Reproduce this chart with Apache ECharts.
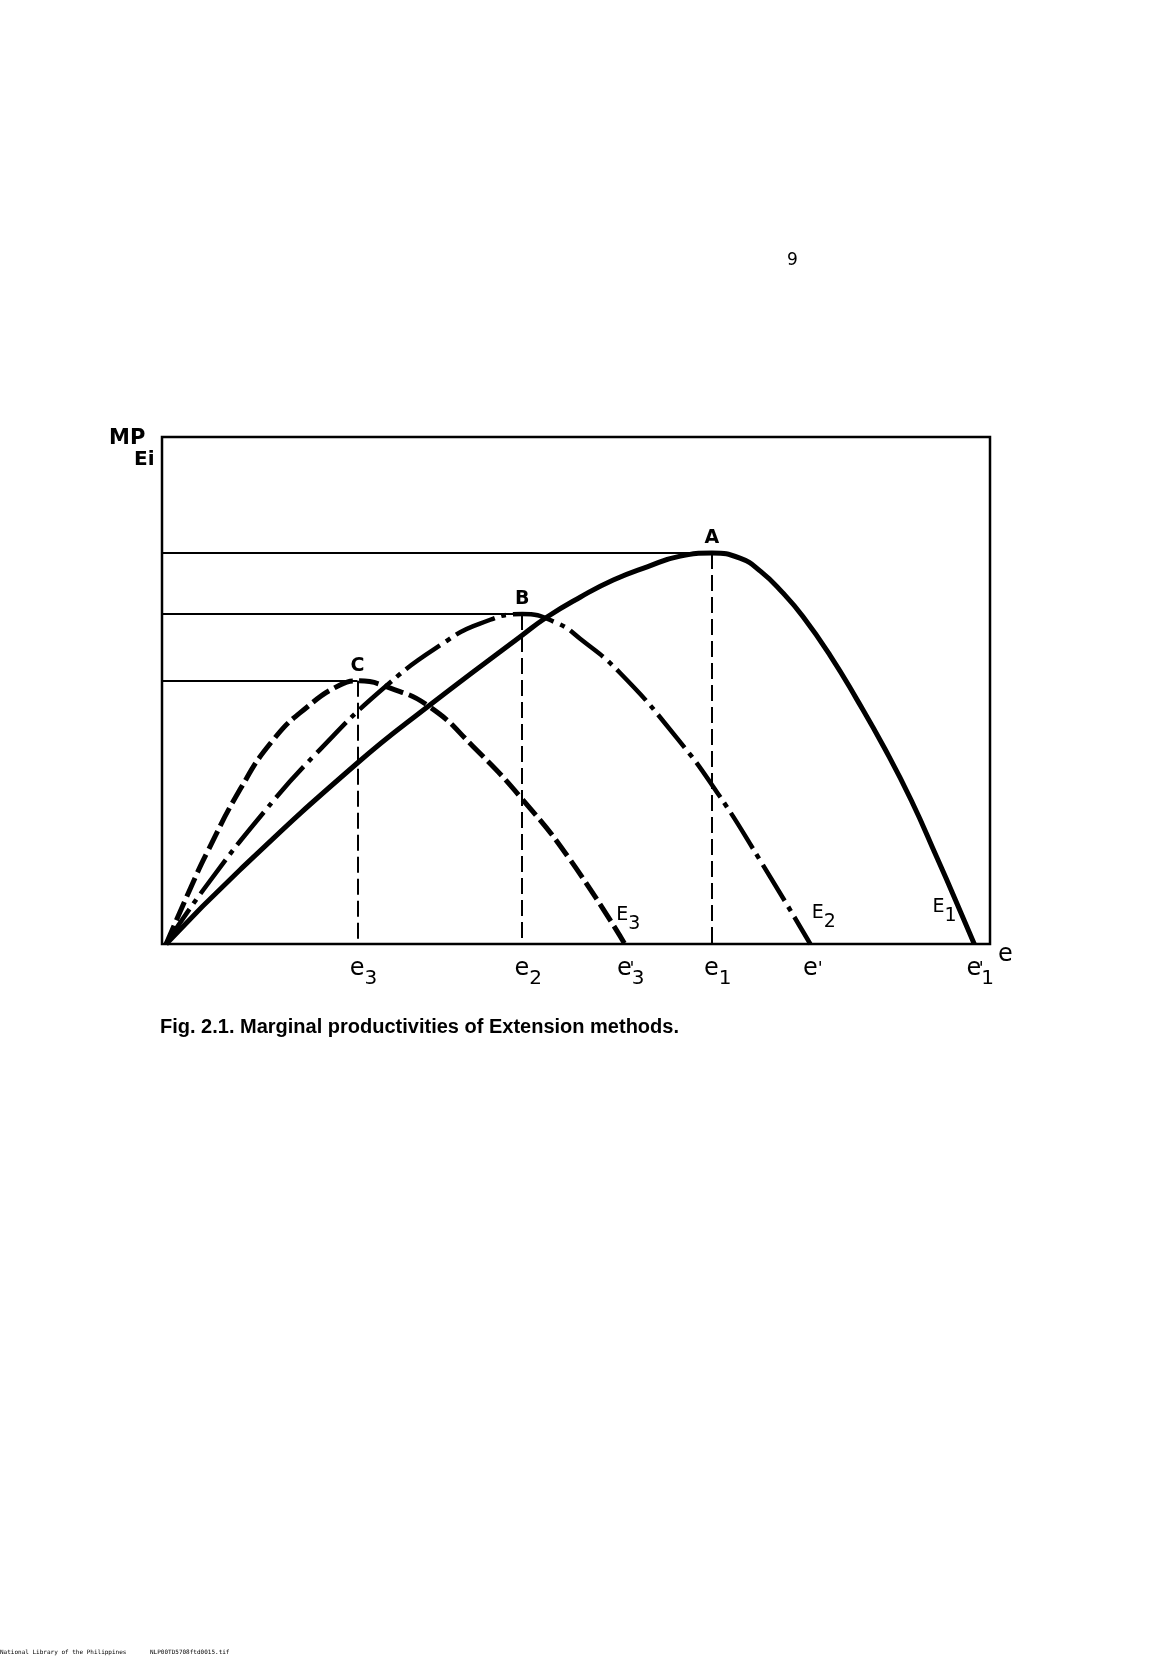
<!DOCTYPE html>
<html><head><meta charset="utf-8">
<script src="https://cdn.jsdelivr.net/npm/echarts@6/dist/echarts.min.js"></script>
<style>html,body{margin:0;padding:0;background:#fff}#c{width:1168px;height:1658px}</style>
</head><body><div id="c"></div>
<script>
// ---- data (x: extension effort, y: marginal productivity; arbitrary units 0-100) ----
const e1X = [0.5, 9.4, 23.6, 32.0, 43.5, 46.5, 50.5, 54.5, 58.6, 62.6, 66.4, 69.8, 72.3, 74.9, 77.4, 80.7, 83.9, 87.3, 90.5, 93.6, 95.8, 98.1];
const e1Y = [0, 14.6, 35.7, 46.7, 60.9, 64.5, 68.4, 71.8, 74.4, 76.5, 77.1, 76.1, 73.5, 69.4, 64.6, 56.9, 48.3, 38.5, 28.3, 17.0, 8.8, 0];
const e2X = [0.5, 5.0, 12.2, 18.7, 27.2, 34.4, 38.4, 43.5, 47.7, 50.5, 55.3, 62.2, 67.0, 72.2, 78.3];
const e2Y = [0, 10.7, 25.8, 37.7, 51.1, 59.8, 63.2, 65.1, 63.3, 60.2, 53.5, 40.6, 30.0, 16.6, 0];
const e3X = [0.5, 3.6, 5.4, 9.4, 13.4, 17.5, 21.5, 23.6, 27.5, 32.4, 37.6, 43.6, 49.3, 55.9];
const e3Y = [0, 11.6, 17.9, 30.4, 40.2, 46.7, 51.1, 51.9, 50.5, 46.7, 38.9, 28.4, 16.6, 0];
const peakNames = ['A', 'B', 'C'];
const curveNames = ['E1', 'E2', 'E3'];
// tick labels, in order: peak of E3, peak of E2, end of E3, peak of E1, end of E2, end of E1
const xTickLabels = ["e3", "e2", "e3'", "e1", "e'", "e1'"];

const FONT = 'DejaVu Sans';
function pairs(xs, ys) { return xs.map((x, i) => [x, ys[i]]); }
function peakOf(xs, ys) { let k = 0; ys.forEach((v, i) => { if (v > ys[k]) k = i; }); return [xs[k], ys[k]]; }
const curves = [[e1X, e1Y], [e2X, e2Y], [e3X, e3Y]];
const peaks = curves.map(c => peakOf(c[0], c[1]));
const ends = curves.map(c => c[0][c[0].length - 1]);
const tickValues = [peaks[2][0], peaks[1][0], ends[2], peaks[0][0], ends[1], ends[0]];

function richTick(t) {
  const sub = t.replace(/[e']/g, '');
  const prime = t.indexOf("'") >= 0;
  if (sub && prime) return '{pad| }{e|e}{p0|\'}{s|' + sub + '}';
  if (sub) return '{pad| }{e|e}{s|' + sub + '}';
  if (prime) return '{padp| }{e|e}{p|\'}';
  return '{e|e}';
}
const P = 10; // subscript drop (px)
const tickRich = {
  e: { fontSize: 24, lineHeight: 24, padding: [0, 0, P, 0], fontFamily: FONT, color: '#000' },
  s: { fontSize: 20, lineHeight: 24, padding: [P, 0, 0, 0], fontFamily: FONT, color: '#000' },
  p0: { fontSize: 18, lineHeight: 24, padding: [0, 0, P, 0], width: 0, align: 'left', fontFamily: FONT, color: '#000' },
  p: { fontSize: 18, lineHeight: 24, padding: [0, 0, P, 0], fontFamily: FONT, color: '#000' },
  pad: { width: 12, fontSize: 10, lineHeight: 24, padding: [0, 0, P, 0] },
  padp: { width: 5, fontSize: 10, lineHeight: 24, padding: [0, 0, P, 0] }
};
const PS = 9;
const subRich = {
  b: { fontSize: 19, lineHeight: 20, padding: [0, 0, PS, 0], fontFamily: FONT, color: '#000' },
  s: { fontSize: 19, lineHeight: 20, padding: [PS, 0, 0, 0], fontFamily: FONT, color: '#000' }
};
// label anchors (data units) for the curve names
const curveLabelPos = [[93.0, 6.4], [78.4, 5.2], [54.8, 4.9]];

const dashStyles = [
  { type: 'solid', width: 5 },
  { type: [42, 7, 5, 7], width: 4.5 },
  { type: [20, 6], width: 5 }
];

const series = curves.map((c, i) => ({
  type: 'line',
  name: curveNames[i],
  data: pairs(c[0], c[1]),
  smooth: 0.5,
  showSymbol: false,
  lineStyle: { color: '#000', width: dashStyles[i].width, type: dashStyles[i].type, cap: 'butt', join: 'round' },
  z: 3,
  markLine: {
    silent: true,
    symbol: ['none', 'none'],
    label: { show: false },
    lineStyle: { color: '#000', width: 2, type: 'solid' },
    z: 2,
    data: [
      [{ coord: [0, peaks[i][1]], lineStyle: { type: 'solid', width: 2, color: '#000' } }, { coord: [peaks[i][0], peaks[i][1]] }],
      [{ coord: [peaks[i][0], peaks[i][1]], lineStyle: { type: [16, 6], width: 2, color: '#000' } }, { coord: [peaks[i][0], 0] }]
    ]
  },
  markPoint: {
    silent: true,
    symbol: 'circle',
    symbolSize: 1,
    itemStyle: { color: 'rgba(0,0,0,0)' },
    data: [
      { coord: peaks[i], label: { show: true, position: 'top', distance: 5, formatter: peakNames[i], fontSize: 19, fontWeight: 'bold', fontFamily: FONT, color: '#000' } },
      { coord: curveLabelPos[i], label: { show: true, position: 'right', distance: 0, formatter: '{b|E}{s|' + curveNames[i].slice(1) + '}', rich: subRich, color: '#000' } }
    ]
  }
}));

const chart = echarts.init(document.getElementById('c'), null, { renderer: 'canvas' });
chart.setOption({
  animation: false,
  backgroundColor: '#fff',
  title: [
    { text: 'Fig. 2.1. Marginal productivities of Extension methods.', left: 160, top: 1017, padding: 0,
      textStyle: { fontFamily: 'Liberation Sans', fontSize: 20, fontWeight: 'bold', color: '#000' } },
    { text: '9', left: 787, top: 252, padding: 0, textStyle: { fontFamily: FONT, fontSize: 17, fontWeight: 'normal', color: '#000' } },
    { text: 'National Library of the Philippines', left: 0, top: 1649, padding: 0,
      textStyle: { fontFamily: 'DejaVu Sans Mono', fontSize: 6, fontWeight: 'normal', color: '#000' } },
    { text: 'NLP00TD5708ftd0015.tif', left: 150, top: 1649, padding: 0,
      textStyle: { fontFamily: 'DejaVu Sans Mono', fontSize: 6, fontWeight: 'normal', color: '#000' } }
  ],
  grid: { left: 162, right: 178, top: 437, bottom: 714, show: true, borderColor: '#000', borderWidth: 2.5, backgroundColor: 'transparent' },
  xAxis: {
    type: 'value', min: 0, max: 100,
    axisLine: { show: false }, axisTick: { show: false }, splitLine: { show: false },
    name: 'e', nameLocation: 'end', nameGap: 5,
    nameTextStyle: { fontFamily: FONT, fontSize: 24, color: '#000', verticalAlign: 'top', lineHeight: 22 },
    axisLabel: {
      show: true, margin: 18, customValues: tickValues,
      formatter: function (v) {
        let k = 0; tickValues.forEach((t, i) => { if (Math.abs(t - v) < Math.abs(tickValues[k] - v)) k = i; });
        return richTick(xTickLabels[k]);
      },
      rich: tickRich
    }
  },
  yAxis: {
    type: 'value', min: 0, max: 100,
    axisLine: { show: false }, axisTick: { show: false }, splitLine: { show: false }, axisLabel: { show: false }
  },
  graphic: [
    { type: 'text', left: 109, top: 428, style: { text: 'MP', fontFamily: FONT, fontSize: 21, fontWeight: 'bold', fill: '#000' } },
    { type: 'text', left: 134, top: 450, style: { text: 'Ei', fontFamily: FONT, fontSize: 20, fontWeight: 'bold', fill: '#000' } }
  ],
  series: series
});
</script></body></html>
